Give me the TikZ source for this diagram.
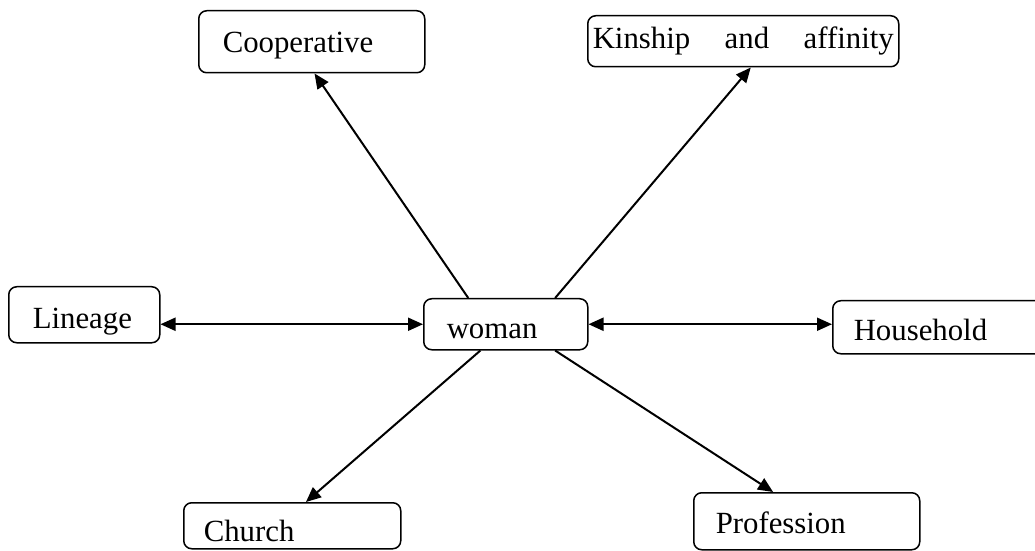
\documentclass[tikz,border=0pt]{standalone}
\usepackage{fontspec}
\setmainfont{Liberation Serif}
\usepackage{tikz}
\usetikzlibrary{arrows.meta, positioning}
\tikzset{>={Triangle[length=7.5pt,width=6.5pt]}}
\tikzset{
    box/.style={draw, rounded corners=4pt, line width=.75pt, anchor=north west, align=left,
        inner ysep=0pt, font=\fontsize{15.4}{18}\selectfont}
}

\begin{document}
\begin{tikzpicture}[x=.5pt, y=-.5pt, line width=1pt]
    \clip (0,0) rectangle (1035,551);
    \node[box, inner xsep=12pt, text width=89pt, text height=21pt, text depth=10pt] (coop) at (198,10) {Cooperative};
    \node[box, inner xsep=2.5pt, text width=150.5pt, text height=16.5pt, text depth=9pt] (kin) at (587,15) {Kinship\hfill and\hfill affinity};
    \node[box, inner xsep=12pt, text width=51.5pt, text height=21pt, text depth=7pt] (lin) at (8,286) {Lineage};
    \node[box, inner xsep=11.5pt, text width=59pt, text height=20pt, text depth=5.5pt] (wom) at (423,298) {woman};
    \node[box, inner xsep=10.5pt, text width=94pt, text height=20pt, text depth=6.5pt] (house) at (832,300) {Household};
    \node[box, inner xsep=10pt, text width=88.5pt, text height=19.5pt, text depth=3.5pt] (church) at (183,502) {Church};
    \node[box, inner xsep=11pt, text width=91pt, text height=20.5pt, text depth=8pt] (prof) at (693,492) {Profession};
    \draw[<->] (wom.west) -- (wom.west -| lin.east);
    \draw[<->] (wom.east) -- (wom.east -| house.west);
    \foreach \a/\n/\b in {145/coop/-85, 28.5/kin/-74, -134/church/60, -28/prof/139}
    {
        \draw[->] (wom.\a) -- (\n.\b);
    }
\end{tikzpicture}
\end{document}
